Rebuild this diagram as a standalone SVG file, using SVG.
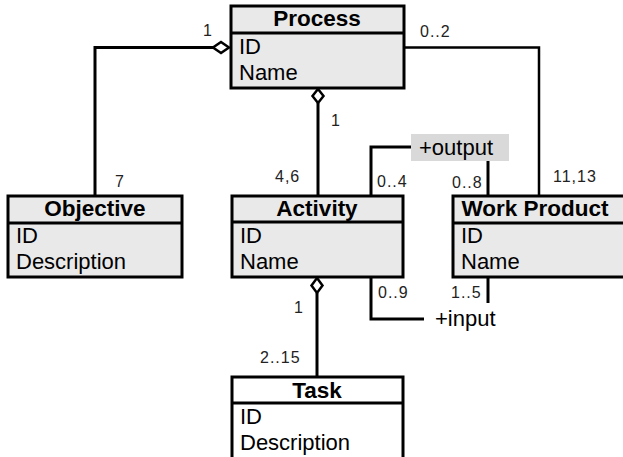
<svg xmlns="http://www.w3.org/2000/svg" width="623" height="457" viewBox="0 0 623 457">
<style>
.box{fill:#e9e9e9;stroke:#000;stroke-width:3}
.white{fill:#fff}
.sep{stroke:#000;stroke-width:3}
.hd{font-family:"Liberation Sans",Arial,sans-serif;font-size:22.5px;font-weight:bold;text-anchor:middle;fill:#000}
.at{font-family:"Liberation Sans",Arial,sans-serif;font-size:22px;fill:#000}
.lb{font-family:"Liberation Sans",Arial,sans-serif;font-size:16px;fill:#222;letter-spacing:1px}
.ln{fill:none;stroke:#000;stroke-width:3}
.dm{fill:#fff;stroke:#000;stroke-width:2.5}
</style>
<rect width="623" height="457" fill="#fff"/>
<g id="connectors">
<polyline class="ln" points="213,47.5 95,47.5 95,196"/>
<polygon class="dm" points="229,47.5 221,42 213,47.5 221,53"/>
<polyline class="ln" style="stroke-width:2.5" points="404,47.5 539,47.5 539,196"/>
<line class="ln" x1="318" y1="103" x2="318" y2="196"/>
<polygon class="dm" points="318,89 323.5,96 318,103 312.5,96"/>
<line class="ln" x1="317" y1="293" x2="317" y2="377"/>
<polygon class="dm" points="317,278 322.5,285.5 317,293 311.5,285.5"/>
<polyline class="ln" points="411,147 371,147 371,196"/>
<line class="ln" x1="488" y1="161" x2="488" y2="196"/>
<polyline class="ln" points="371,277 371,319 424,319"/>
<line class="ln" x1="488" y1="277" x2="488" y2="303"/>
<text class="lb" x="203" y="36">1</text>
<text class="lb" x="420" y="37">0..2</text>
<text class="lb" x="331" y="126">1</text>
<text class="lb" x="115" y="187">7</text>
<text class="lb" x="275" y="182">4,6</text>
<text class="lb" x="377" y="187">0..4</text>
<text class="lb" x="452" y="188">0..8</text>
<text class="lb" x="553" y="182">11,13</text>
<text class="lb" x="378" y="298">0..9</text>
<text class="lb" x="451" y="298">1..5</text>
<text class="lb" x="294" y="313">1</text>
<text class="lb" x="260" y="363">2..15</text>
<rect x="411" y="134" width="98" height="27" fill="#d9d9d9"/>
<text class="at" x="419" y="155">+output</text>
<text class="at" x="435" y="326">+input</text>
</g>
<g id="process">
<rect class="box" x="231" y="6" width="173" height="82"/>
<line class="sep" x1="231" y1="33" x2="404" y2="33"/>
<text class="hd" x="317" y="26">Process</text>
<text class="at" x="239" y="54">ID</text>
<text class="at" x="239" y="80">Name</text>
</g>
<g id="objective">
<rect class="box" x="8" y="196" width="174" height="81"/>
<line class="sep" x1="8" y1="223" x2="182" y2="223"/>
<text class="hd" x="95" y="216">Objective</text>
<text class="at" x="16" y="243">ID</text>
<text class="at" x="16" y="269">Description</text>
</g>
<g id="activity">
<rect class="box" x="232" y="196" width="171" height="81"/>
<line class="sep" x1="232" y1="222" x2="403" y2="222"/>
<text class="hd" x="317" y="216">Activity</text>
<text class="at" x="240" y="243">ID</text>
<text class="at" x="240" y="269">Name</text>
</g>
<g id="work-product">
<rect class="box" x="453" y="196" width="175" height="81"/>
<line class="sep" x1="453" y1="223" x2="628" y2="223"/>
<text class="hd" x="535" y="216">Work Product</text>
<text class="at" x="461" y="243">ID</text>
<text class="at" x="461" y="269">Name</text>
</g>
<g id="task">
<rect class="box white" x="232" y="377" width="171" height="85"/>
<line class="sep" x1="232" y1="403" x2="403" y2="403"/>
<text class="hd" x="317" y="398">Task</text>
<text class="at" x="240" y="424">ID</text>
<text class="at" x="240" y="450">Description</text>
</g>
</svg>
